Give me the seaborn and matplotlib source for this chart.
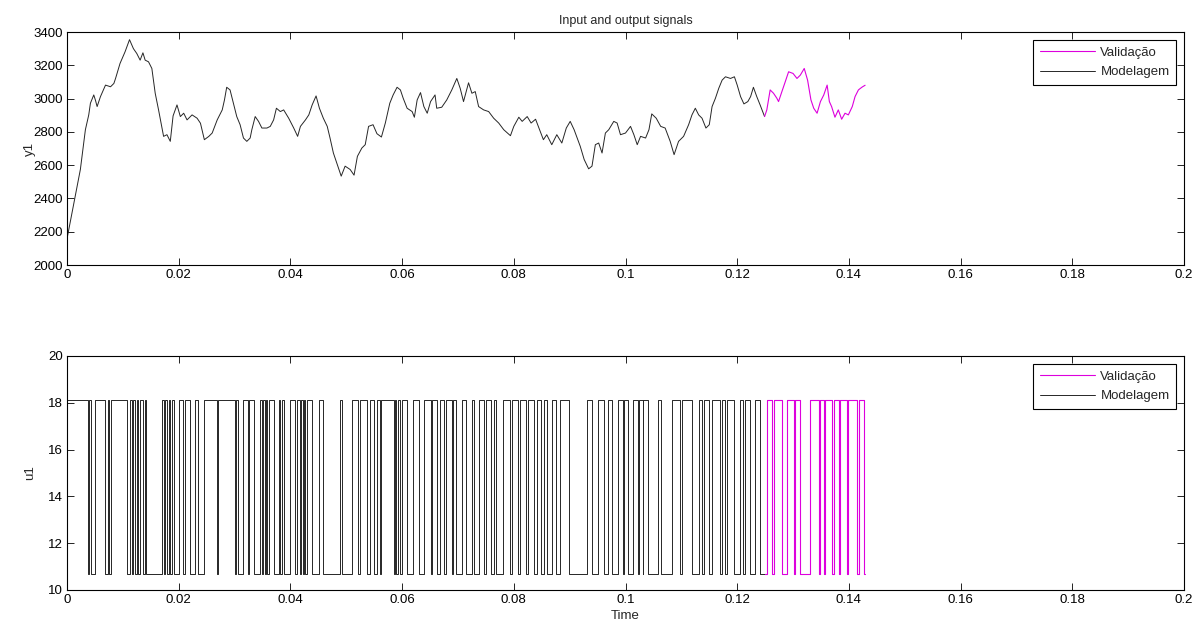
import numpy as np
import pandas as pd
import seaborn as sns
import matplotlib
matplotlib.use("Agg")
import matplotlib.pyplot as plt
from matplotlib.ticker import FuncFormatter

# ---- output signal y1 ----
t_model = [0.0000, 0.0024, 0.0033, 0.0039, 0.0042, 0.0048, 0.0051, 0.0054, 0.0060, 0.0069,
           0.0078, 0.0084, 0.0087, 0.0095, 0.0104, 0.0112, 0.0119, 0.0125, 0.0131, 0.0136,
           0.0140, 0.0146, 0.0152, 0.0158, 0.0164, 0.0173, 0.0179, 0.0185, 0.0190, 0.0197,
           0.0203, 0.0209, 0.0215, 0.0224, 0.0233, 0.0239, 0.0246, 0.0254, 0.0260, 0.0269,
           0.0278, 0.0282, 0.0286, 0.0292, 0.0298, 0.0304, 0.0310, 0.0316, 0.0322, 0.0328,
           0.0331, 0.0337, 0.0343, 0.0349, 0.0358, 0.0364, 0.0370, 0.0375, 0.0382, 0.0388,
           0.0397, 0.0406, 0.0413, 0.0418, 0.0427, 0.0433, 0.0439, 0.0446, 0.0452, 0.0459,
           0.0466, 0.0471, 0.0477, 0.0483, 0.0491, 0.0498, 0.0507, 0.0514, 0.0520, 0.0528,
           0.0534, 0.0540, 0.0548, 0.0555, 0.0563, 0.0570, 0.0578, 0.0584, 0.0591, 0.0597,
           0.0602, 0.0609, 0.0618, 0.0622, 0.0627, 0.0633, 0.0639, 0.0645, 0.0651, 0.0659,
           0.0662, 0.0671, 0.0680, 0.0689, 0.0698, 0.0704, 0.0710, 0.0719, 0.0725, 0.0731,
           0.0737, 0.0746, 0.0755, 0.0764, 0.0773, 0.0782, 0.0794, 0.0800, 0.0809, 0.0815,
           0.0824, 0.0831, 0.0839, 0.0845, 0.0853, 0.0859, 0.0868, 0.0877, 0.0886, 0.0894,
           0.0901, 0.0908, 0.0919, 0.0926, 0.0934, 0.0940, 0.0946, 0.0952, 0.0958, 0.0964,
           0.0970, 0.0979, 0.0985, 0.0991, 0.1000, 0.1009, 0.1015, 0.1021, 0.1027, 0.1036,
           0.1042, 0.1047, 0.1055, 0.1063, 0.1071, 0.1080, 0.1087, 0.1095, 0.1104, 0.1113,
           0.1119, 0.1125, 0.1131, 0.1137, 0.1144, 0.1150, 0.1155, 0.1161, 0.1167, 0.1173,
           0.1179, 0.1188, 0.1195, 0.1200, 0.1206, 0.1212, 0.1219, 0.1224, 0.1229, 0.1235,
           0.1241, 0.1249]
y_model = [2156, 2574, 2813, 2902, 2972, 3022, 2990, 2952, 3012, 3081,
           3071, 3091, 3121, 3211, 3281, 3354, 3300, 3271, 3231, 3275,
           3231, 3221, 3181, 3032, 2932, 2773, 2783, 2743, 2896, 2962,
           2892, 2912, 2872, 2902, 2882, 2852, 2753, 2773, 2793, 2872,
           2932, 2992, 3068, 3052, 2972, 2892, 2843, 2763, 2743, 2763,
           2813, 2892, 2863, 2823, 2823, 2833, 2872, 2942, 2922, 2932,
           2882, 2823, 2773, 2833, 2872, 2902, 2962, 3016, 2942, 2882,
           2833, 2763, 2673, 2614, 2534, 2594, 2574, 2540, 2653, 2703,
           2723, 2833, 2843, 2789, 2769, 2853, 2972, 3022, 3068, 3052,
           3002, 2942, 2922, 2888, 2992, 3036, 2952, 2912, 2982, 3022,
           2942, 2948, 2992, 3052, 3121, 3062, 2982, 3095, 3032, 3042,
           2952, 2932, 2922, 2882, 2853, 2813, 2777, 2833, 2888, 2863,
           2892, 2853, 2876, 2823, 2753, 2783, 2723, 2783, 2733, 2823,
           2863, 2813, 2713, 2634, 2578, 2594, 2723, 2733, 2673, 2793,
           2813, 2863, 2853, 2783, 2793, 2833, 2783, 2723, 2773, 2763,
           2813, 2908, 2882, 2833, 2823, 2743, 2663, 2743, 2773, 2843,
           2902, 2942, 2902, 2882, 2823, 2843, 2952, 3002, 3062, 3111,
           3131, 3121, 3131, 3081, 3012, 2968, 2982, 3012, 3068, 3012,
           2962, 2892]

t_valid = [0.1249, 0.1253, 0.1259, 0.1265, 0.1271, 0.1274, 0.1280, 0.1286, 0.1292, 0.1300,
           0.1307, 0.1313, 0.1320, 0.1326, 0.1332, 0.1337, 0.1343, 0.1349, 0.1355, 0.1361,
           0.1365, 0.1369, 0.1375, 0.1381, 0.1387, 0.1393, 0.1399, 0.1406, 0.1411, 0.1417,
           0.1420, 0.1424, 0.1429]
y_valid = [2892, 2932, 3052, 3032, 3002, 2982, 3042, 3101, 3161, 3151,
           3121, 3141, 3181, 3111, 2992, 2942, 2912, 2982, 3022, 3081,
           2982, 2952, 2888, 2932, 2876, 2912, 2902, 2952, 3012, 3052,
           3060, 3070, 3080]

# ---- input signal u1: levels and "high" intervals in ms ----
u_high, u_low = 18.1, 10.67
u_model_highs = [(0, 3.7), (4.0, 4.3), (5.1, 6.9), (7.3, 7.6), (7.9, 10.8), (11.3, 11.6),
                 (11.9, 12.2), (12.5, 12.8), (13.1, 13.7), (14.0, 14.2), (17.0, 17.3),
                 (17.6, 17.9), (18.2, 18.5), (18.8, 19.1), (20.0, 20.8), (21.2, 22.1),
                 (22.9, 23.5), (24.5, 26.9), (27.1, 30.0), (30.3, 30.6), (31.6, 32.4),
                 (32.6, 33.4), (34.6, 34.9), (35.1, 35.4), (35.6, 35.8), (36.1, 37.0),
                 (37.9, 38.2), (38.5, 38.8), (40.0, 40.9), (41.1, 41.8), (41.9, 42.3),
                 (42.4, 42.7), (42.9, 43.9), (45.2, 45.8), (48.9, 49.3), (51.0, 52.1),
                 (52.5, 53.8), (54.2, 54.9), (55.5, 56.0), (56.3, 58.5), (58.7, 59.0),
                 (59.2, 59.7), (60.0, 60.9), (62.0, 63.0), (63.9, 65.1), (65.4, 66.3),
                 (66.7, 67.5), (67.8, 69.0), (69.2, 69.7), (70.7, 71.5), (72.5, 72.9),
                 (73.7, 74.6), (75.1, 75.9), (76.4, 76.9), (78.1, 79.3), (79.7, 80.7),
                 (81.1, 82.1), (82.5, 83.6), (84.2, 84.8), (85.4, 86.0), (86.9, 87.5),
                 (88.2, 89.8), (93.1, 94.0), (95.0, 96.1), (96.8, 97.6), (98.7, 99.6),
                 (99.8, 100.5), (101.3, 102.2), (102.5, 103.1), (103.2, 104.1),
                 (105.9, 106.3), (108.3, 109.8), (110.1, 111.9), (113.1, 113.7),
                 (114.0, 114.9), (115.5, 117.0), (117.3, 117.9), (118.2, 119.4),
                 (120.5, 121.1), (121.4, 122.3), (123.2, 124.0)]
u_valid_highs = [(125.3, 126.2), (126.5, 128.0), (129.0, 130.1), (130.4, 131.3),
                 (133.1, 134.6), (134.8, 135.5), (135.8, 137.0), (137.3, 138.2),
                 (138.4, 139.7), (139.8, 141.5), (141.8, 142.7)]
u_model_span = (0.0, 125.0)
u_valid_span = (125.0, 142.9)


def step_frame(highs, span):
    # turn the list of high intervals into a steps-post series
    t0, t1 = span
    ts = [t0]
    vs = [u_high if highs[0][0] <= t0 else u_low]
    for a, b in highs:
        if a > t0:
            ts.append(a)
            vs.append(u_high)
        ts.append(b)
        vs.append(u_low)
    ts.append(t1)
    vs.append(vs[-1])
    return pd.DataFrame({"t": np.array(ts) / 1000.0, "u": vs})


sns.set_style("ticks")
plt.rcParams["font.family"] = ["Liberation Sans", "DejaVu Sans"]
plt.rcParams["font.size"] = 9.5

black = "#262626"
magenta = "#dd00dd"

fig = plt.figure(figsize=(12, 6.24), dpi=100)
ax1 = fig.add_axes([0.0558, 0.5753, 0.9309, 0.3734])
ax2 = fig.add_axes([0.0558, 0.0545, 0.9309, 0.3750])

# top: output
sns.lineplot(x=t_model, y=y_model, ax=ax1, color=black, lw=0.7, label="Modelagem",
             estimator=None, sort=False)
sns.lineplot(x=t_valid, y=y_valid, ax=ax1, color=magenta, lw=0.8, label="Validação",
             estimator=None, sort=False)

# bottom: input
um = step_frame(u_model_highs, u_model_span)
uv = step_frame(u_valid_highs, u_valid_span)
sns.lineplot(data=um, x="t", y="u", ax=ax2, color=black, lw=0.7, label="Modelagem",
             estimator=None, sort=False, drawstyle="steps-post")
sns.lineplot(data=uv, x="t", y="u", ax=ax2, color=magenta, lw=0.8, label="Validação",
             estimator=None, sort=False, drawstyle="steps-post")

fmt = FuncFormatter(lambda v, p: "%g" % round(v, 4))
for ax, ylim, yt in [(ax1, (2000, 3400), np.arange(2000, 3401, 200)),
                     (ax2, (10, 20), np.arange(10, 21, 2))]:
    ax.set_xlim(0, 0.2)
    ax.set_ylim(*ylim)
    ax.set_xticks(np.arange(0, 0.2001, 0.02))
    ax.set_yticks(yt)
    ax.xaxis.set_major_formatter(fmt)
    ax.tick_params(direction="in", top=True, right=True, length=5, width=0.6,
                   labelsize=9.5, colors="black", pad=3)
    for s in ax.spines.values():
        s.set_visible(True)
        s.set_linewidth(0.8)
        s.set_color("black")
    h, l = ax.get_legend_handles_labels()
    leg = ax.legend(h[::-1], l[::-1], loc="upper right", fontsize=9.5, frameon=True,
                    fancybox=False, edgecolor="black", framealpha=1, handlelength=4.2,
                    borderpad=0.5, labelspacing=0.55, handletextpad=0.4,
                    borderaxespad=0.6)
    leg.get_frame().set_linewidth(0.8)
    ax.yaxis.set_label_coords(-0.028, 0.5)

ax1.set_xlabel("")
ax1.set_ylabel("y1", fontsize=9.5)
ax2.set_ylabel("u1", fontsize=9.5)
ax2.set_xlabel("Time", fontsize=9.5, labelpad=-1)
ax2.xaxis.set_label_coords(0.5, -0.085)
ax1.set_title("Input and output signals", fontsize=9, pad=6)

fig.savefig("out.png", dpi=100)
